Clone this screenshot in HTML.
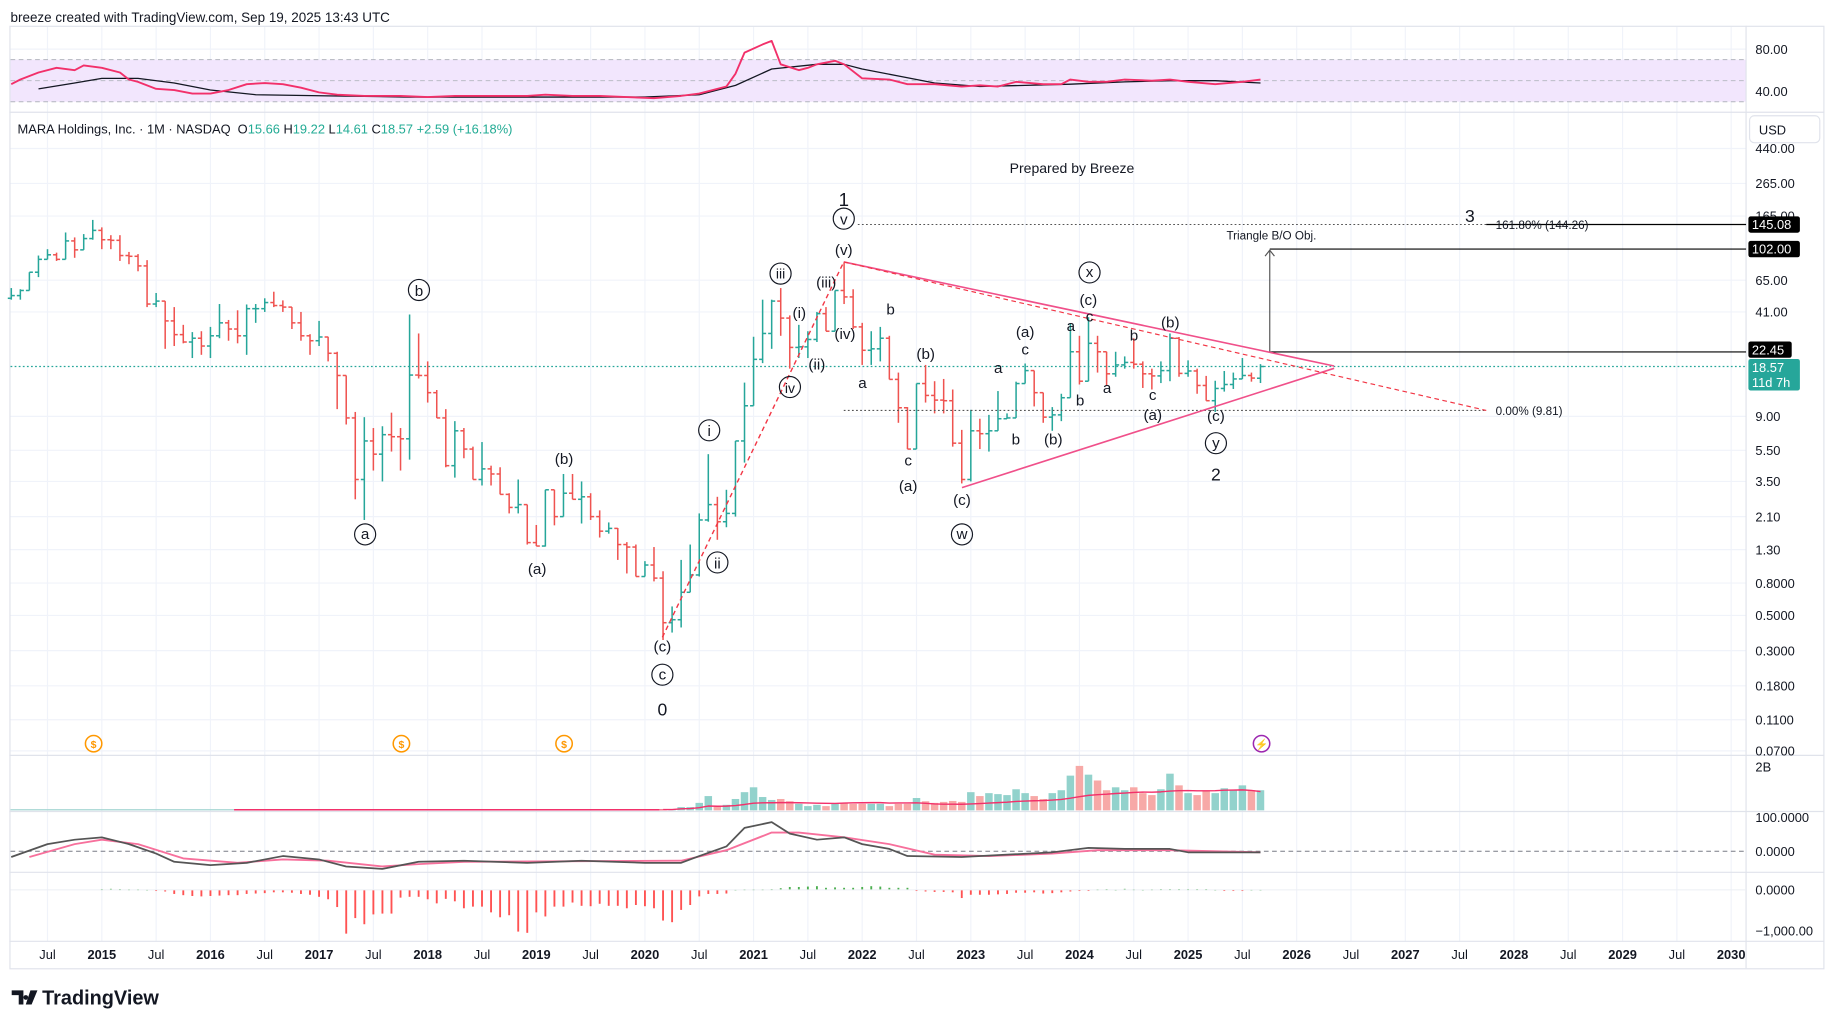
<!DOCTYPE html>
<html><head><meta charset="utf-8">
<style>
html,body{margin:0;padding:0;background:#fff;}
svg{display:block;font-family:"Liberation Sans",sans-serif;}
</style></head>
<body>
<svg id="chart" width="1835" height="1029" viewBox="0 0 1568 880" preserveAspectRatio="none" xmlns="http://www.w3.org/2000/svg">
<rect x="0" y="0" width="1568" height="880" fill="#fff"/>
<text x="9" y="19" font-size="11.5" fill="#131722">breeze created with TradingView.com, Sep 19, 2025 13:43 UTC</text>
<g id="grid"></g>
<!-- RSI band -->
<rect x="9" y="51" width="1483" height="36" fill="#f2e6fd"/>
<line x1="9" y1="51" x2="1492" y2="51" stroke="#b2b5be" stroke-dasharray="4,3" stroke-width="0.8"/>
<line x1="9" y1="69" x2="1492" y2="69" stroke="#b2b5be" stroke-dasharray="4,3" stroke-width="0.8"/>
<line x1="9" y1="87" x2="1492" y2="87" stroke="#b2b5be" stroke-dasharray="4,3" stroke-width="0.8"/>
<g id="panes" stroke="#e0e3eb" stroke-width="1" fill="none">
<rect x="8.5" y="22.5" width="1550" height="806"/>
<line x1="8" y1="96" x2="1559" y2="96"/>
<line x1="8" y1="646" x2="1559" y2="646"/>
<line x1="8" y1="694" x2="1559" y2="694"/>
<line x1="8" y1="746" x2="1559" y2="746"/>
<line x1="8" y1="805" x2="1559" y2="805"/>
<line x1="1492" y1="22" x2="1492" y2="828"/>
</g>
<g id="rsi"></g>
<g id="price"></g>
<g id="vol"></g>
<g id="macd"></g>
<g id="axes" font-size="11" fill="#131722"></g>

<!-- annotations -->
<g font-size="13" fill="#131722" text-anchor="middle">
<line x1="733" y1="192" x2="1492" y2="192" stroke="#555" stroke-dasharray="1.5,2" stroke-width="0.9"/>
<line x1="721" y1="351" x2="1270" y2="351" stroke="#555" stroke-dasharray="1.5,2" stroke-width="0.9"/>
<line x1="1270" y1="192" x2="1492" y2="192" stroke="#000" stroke-width="1"/>
<line x1="1085" y1="213" x2="1492" y2="213" stroke="#000" stroke-width="1"/>
<line x1="1085" y1="301" x2="1492" y2="301" stroke="#000" stroke-width="1"/>
<line x1="1085" y1="301" x2="1085" y2="214" stroke="#555" stroke-width="1"/>
<path d="M1081 219 L1085 214 L1089 219" stroke="#555" fill="none"/>
<line x1="721" y1="224" x2="1140" y2="313" stroke="#f0508a" stroke-width="1.4"/>
<line x1="822" y1="417" x2="1140" y2="315" stroke="#f0508a" stroke-width="1.4"/>
<line x1="721" y1="224" x2="1270" y2="351" stroke="#f23645" stroke-width="1" stroke-dasharray="4,3"/>
<line x1="566" y1="545" x2="721" y2="224" stroke="#f23645" stroke-width="1.2" stroke-dasharray="4,3"/>
<text x="916" y="148" font-size="12">Prepared by Breeze</text>
<text x="721" y="176" font-size="16">1</text>
<circle cx="721" cy="187" r="9" fill="none" stroke="#131722"/><text x="721" y="192">v</text>
<text x="721" y="218">(v)</text>
<circle cx="667" cy="234" r="9" fill="none" stroke="#131722"/><text x="667" y="238" font-size="12">iii</text>
<text x="706" y="246">(iii)</text>
<text x="683" y="272">(i)</text>
<text x="722" y="290">(iv)</text>
<text x="698" y="316">(ii)</text>
<circle cx="675" cy="331" r="9" fill="none" stroke="#131722"/><text x="675" y="336" font-size="12">iv</text>
<circle cx="606" cy="368" r="9" fill="none" stroke="#131722"/><text x="606" y="373">i</text>
<circle cx="613" cy="481" r="9" fill="none" stroke="#131722"/><text x="613" y="486">ii</text>
<text x="566" y="557">(c)</text>
<circle cx="566" cy="577" r="9" fill="none" stroke="#131722"/><text x="566" y="581">c</text>
<text x="566" y="612" font-size="15">0</text>
<circle cx="358" cy="248" r="9" fill="none" stroke="#131722"/><text x="358" y="253">b</text>
<circle cx="312" cy="457" r="9" fill="none" stroke="#131722"/><text x="312" y="461">a</text>
<text x="482" y="397">(b)</text>
<text x="459" y="491">(a)</text>
<text x="761" y="269">b</text>
<text x="737" y="332">a</text>
<text x="791" y="307">(b)</text>
<text x="776" y="398">c</text>
<text x="776" y="420">(a)</text>
<text x="822" y="432">(c)</text>
<circle cx="822" cy="457" r="9" fill="none" stroke="#131722"/><text x="822" y="461">w</text>
<text x="853" y="319">a</text>
<text x="876" y="288">(a)</text>
<text x="876" y="303">c</text>
<text x="868" y="380">b</text>
<text x="900" y="380">(b)</text>
<text x="915" y="283">a</text>
<text x="923" y="347">b</text>
<text x="930" y="261">(c)</text>
<text x="931" y="275">c</text>
<circle cx="931" cy="233" r="9" fill="none" stroke="#131722"/><text x="931" y="237">x</text>
<text x="946" y="336">a</text>
<text x="969" y="291">b</text>
<text x="985" y="342">c</text>
<text x="985" y="359">(a)</text>
<text x="1000" y="280">(b)</text>
<text x="1039" y="360">(c)</text>
<circle cx="1039" cy="379" r="9" fill="none" stroke="#131722"/><text x="1039" y="383">y</text>
<text x="1039" y="411" font-size="15">2</text>
<text x="1256" y="190" font-size="15">3</text>
<text x="1278" y="196" font-size="10" text-anchor="start">161.80% (144.26)</text>
<text x="1048" y="205" font-size="10" text-anchor="start">Triangle B/O Obj.</text>
<text x="1278" y="355" font-size="10" text-anchor="start">0.00% (9.81)</text>
</g>
<!-- price legend -->
<g font-size="11">
<text x="15" y="114" fill="#131722">MARA Holdings, Inc. · 1M · NASDAQ <tspan dx="3">O</tspan><tspan fill="#22ab94">15.66</tspan> <tspan>H</tspan><tspan fill="#22ab94">19.22</tspan> <tspan>L</tspan><tspan fill="#22ab94">14.61</tspan> <tspan>C</tspan><tspan fill="#22ab94">18.57</tspan> <tspan fill="#22ab94">+2.59 (+16.18%)</tspan></text>
</g>
<!-- dividend/event icons -->
<g font-size="9" text-anchor="middle" font-weight="bold">
<circle cx="80" cy="636" r="7" fill="#fff" stroke="#ff9800" stroke-width="1.3"/><text x="80" y="639.5" fill="#ff9800">$</text>
<circle cx="343" cy="636" r="7" fill="#fff" stroke="#ff9800" stroke-width="1.3"/><text x="343" y="639.5" fill="#ff9800">$</text>
<circle cx="482" cy="636" r="7" fill="#fff" stroke="#ff9800" stroke-width="1.3"/><text x="482" y="639.5" fill="#ff9800">$</text>
<circle cx="1078" cy="636" r="7" fill="#fff" stroke="#9c27b0" stroke-width="1.3"/><text x="1078" y="639.5" fill="#9c27b0">⚡</text>
</g>
<!-- right axis badges -->
<g>
<rect x="1495" y="99" width="60" height="23" rx="4" fill="#fff" stroke="#e0e3eb"/>
<text x="1503" y="115" font-size="11" fill="#131722">USD</text>
</g>
<g font-size="11" fill="#fff">
<rect x="1494" y="185" width="44" height="14" rx="2" fill="#000"/><text x="1497" y="196">145.08</text>
<rect x="1494" y="206" width="44" height="14" rx="2" fill="#000"/><text x="1497" y="217">102.00</text>
<rect x="1494" y="292" width="37" height="14" rx="2" fill="#000"/><text x="1497" y="303">22.45</text>
<rect x="1494" y="307" width="44" height="27" rx="2" fill="#26a69a"/><text x="1497" y="318">18.57</text><text x="1497" y="331">11d 7h</text>
</g>
<g>
<path d="M10 847 h10 v12 h-4 v-8 h-6z M22 851 a2 2 0 1 0 0.1 0 z M26 847 h6 l-5 12 h-5z" fill="#131722"/>
<text x="36" y="859" font-size="17" font-weight="bold" fill="#131722">TradingView</text>
</g>

<script>
// ---------- DATA ----------
const firstMonth = -10; // Mar 2014 (0 = Jan 2015)
const closes = [52,56,73,88,94,88,115,101,119,134,
117,116,93,92,80,46,48,36,29.5,26.5,28,25,
29,35,32,29,43,43,47,45,44,35,29,27,
28.5,22.5,16.3,8.8,3.6,6.3,5.2,6.9,6.7,6.5,16.4,16.3,
12.7,8.8,4.4,7.3,5.6,3.6,4.2,3.9,2.9,2.4,2.5,1.44,
1.37,3.1,2.1,2.95,2.7,2.8,2.1,1.7,1.77,1.4,1.35,0.88,
1.04,0.86,0.45,0.47,0.7,0.9,2.0,2.5,1.95,2.2,6.3,10.5,
20.6,30,48,37.5,24.5,24.7,27.5,40,31,56,51,33,
23.5,24,28,15.4,10.2,5.6,14.5,12.2,11.4,11.3,6.1,3.6,
7.3,7.0,7.3,8.7,8.8,14.5,17.5,12.7,8.9,9.2,11.8,23,
15,26,23,16.7,19,19.7,19.2,16.7,16.2,17.5,28,16.8,
17.4,14.1,11.3,13.5,14.3,15.5,16.3,15.7,18.57];
const highs = [58,57,73,93,102,97,130,121,127,156,
140,125,125,98,95,87,54,48,44,34,30.6,31,
33,46,36.5,42,45.7,46,50,55,48.5,44,41,29.7,
36,28.6,23,16.2,9.6,8.9,7.6,7.8,9.5,7.6,39.5,30,
20,13.2,10,8.4,7.6,5.8,6.2,4.4,4.3,2.95,3.6,2.5,
1.86,3.1,3.1,3.9,3.9,3.5,2.95,2.3,1.93,1.78,1.45,1.4,
1.1,1.35,0.95,0.57,1.12,1.4,2.2,5.2,2.8,3.1,6.3,14.7,
28.6,49,49,58,39,34,31,41,44,56,84,57,
35,31,33,29,17,10.3,14.5,19,15,15.5,13.3,7.4,
9.9,8.7,9.2,13,9.4,14.9,19.4,17.5,12.5,10.3,12.5,34.5,
29,38,29,22.5,23,21.5,28,20,18,20,30,28.5,
20.3,18,16.2,15.1,17.4,17,21,17,19.22];
const lows = [49,49,56,68,88,86,88,90,104,117,
102,102,86,82,74,44,44,24,25,26,21,22,
21,28,27,26,22,35,41,44,41,32,27,22,
25,20,10,8,2.7,2.0,4.1,3.5,5.4,4.1,4.8,15.6,
11,8.8,4.3,3.7,4.9,3.6,3.3,3.3,2.9,2.2,2.2,1.4,
1.37,1.36,1.85,2.1,2.7,1.9,2.0,1.55,1.64,1.12,0.92,0.88,
0.88,0.82,0.35,0.39,0.42,0.72,0.88,1.95,1.5,1.8,2.1,4.6,
10.5,19.5,24,29,18,21,21,26.5,31,33,46,32,
19,19,20,15.4,8.2,5.6,5.6,11,9.4,9.4,5.8,3.4,
3.5,5.6,5.4,7.5,8.7,8.8,14.5,10.4,8.2,7.3,8.4,12,
14.3,16.2,17,14,16,18,18,13.6,13.3,14.6,15,16,
16,12.5,11.3,9.6,12.9,13.4,15.5,14.9,14.61];
const firstOpen = 50;
const lastOpen = 15.66;
// volume in millions, Mar 2020 .. Sep 2025
const volStart = 62;
const volumes = [44,44,146,146,336,642,160,248,511,818,1037,599,467,511,409,292,190,248,190,292,336,292,292,292,292,190,292,292,555,409,336,380,423,380,818,642,774,730,686,949,774,642,511,774,905,1562,2000,1606,1343,905,1037,905,1037,774,686,949,1650,1124,774,686,861,774,993,905,1124,905,905];
// RSI (month index, value)
const rsiMonths = [-10,-9,-7,-5,-3,-2,0,2,3,4,6,8,10,12,14,16,18,20,22,24,26,29,33,36,39,43,47,49,52,55,58,61,64,66,69,70,71,73,74,75,77,78,79,81,82,84,87,89,92,95,97,99,101,104,106,107,109,111,113,116,118,120,123,126,128];
const rsiVals = [46.7,51.1,57.8,62.2,60,64.4,62.2,57.8,51.1,48.9,42.2,41.1,37.8,37.8,41.1,46.7,47.8,46.7,43.3,38.9,36.7,35.6,35.6,34.4,35.6,35.6,35.6,36.7,35.6,35.6,34.4,33.3,35.6,37.8,44.4,56.7,76.7,84.4,87.8,65.6,60,62.2,65.6,68.9,65.6,52.2,51.1,46.7,46.7,44.4,45.6,44.4,48.9,46.7,46.7,51.1,48.9,48.9,51.1,50,51.1,48.9,46.7,48.9,51.1];
const rsiMaMonths = [-7,-3,0,4,8,12,17,25,34,47,60,66,70,74,79,82,84,88,92,97,102,107,113,118,123,128];
const rsiMaVals = [42.2,47.8,52.2,52.2,47.8,41.1,36.7,35.6,34.4,34.4,34.4,36.7,45.6,61.1,65.6,65.6,61.1,54.4,47.8,44.4,45.6,46.7,48.9,50,50,47.8];
// MACD
const macdMonths = [-10,-6,-3,0,3,6,8,12,16,20,24,27,31,35,40,47,53,60,64,66,69,71,74,76,79,82,84,87,89,95,100,105,109,113,118,120,128];
const macdVals = [-17,21,34,41,21,-7,-31,-41,-34,-14,-24,-45,-52,-31,-28,-34,-28,-34,-34,-14,14,69,86,52,34,41,21,7,-14,-17,-10,-3,10,7,7,-3,-3];
const sigMonths = [-8,-3,0,4,9,15,20,25,31,35,40,64,69,74,77,82,87,92,98,105,110,118,128];
const sigVals = [-17,21,34,21,-21,-34,-24,-28,-45,-38,-31,-28,3,55,55,41,21,-10,-14,-7,3,3,-3];
const histStart = 0;
const histVals = [20,25,20,15,15,10,-5,-40,-100,-130,-150,-160,
-150,-140,-130,-130,-100,-90,-80,-60,-60,-70,-100,-120,
-170,-230,-420,-1070,-690,-840,-600,-580,-580,-190,-170,-170,
-230,-330,-220,-280,-450,-410,-410,-550,-670,-620,-1020,-1050,
-550,-650,-410,-410,-310,-390,-400,-340,-390,-390,-450,-370,
-400,-450,-750,-790,-490,-370,-160,-100,-100,-90,10,15,
15,15,20,40,70,70,80,90,50,60,50,50,
70,90,80,50,50,50,-20,-40,-50,-50,-60,-200,
-120,-120,-120,-110,-100,-70,-70,-60,-90,-80,-60,-40,
-20,-20,15,20,10,25,15,10,15,20,20,20,
20,20,20,10,-10,-10,-10,10,10];
const priceTicks = [440,265,165,65,41,9,5.5,3.5,2.1,1.3,0.8,0.5,0.3,0.18,0.11,0.07];
const priceTickLabels = ["440.00","265.00","165.00","65.00","41.00","9.00","5.50","3.50","2.10","1.30","0.8000","0.5000","0.3000","0.1800","0.1100","0.0700"];
const years = [2015,2016,2017,2018,2019,2020,2021,2022,2023,2024,2025,2026,2027,2028,2029,2030];

// ---------- SCALES ----------
const NS = "http://www.w3.org/2000/svg";
const xM = m => 87 + 7.735 * m;
const yP = p => 127 + 58.9 * Math.log(440 / p);
const yRSI = v => 42 + (80 - v) * 0.9;
const yMACD = v => 728 - v * 0.29;
const yHist = v => 761 - v * 0.035;
const yVol = v => 693 - v / 2000 * 38;
function mk(tag, attrs, parent) {
  const e = document.createElementNS(NS, tag);
  for (const k in attrs) e.setAttribute(k, attrs[k]);
  parent.appendChild(e);
  return e;
}
const G = id => document.getElementById(id);
const GREEN = "#26a69a", RED = "#ef5350";

// grid
const grid = G("grid");
for (let i = 0; i < priceTicks.length; i++) {
  const y = yP(priceTicks[i]);
  const l = mk("line", {x1: 9, x2: 1492, y1: y, y2: y, stroke: "#f0f3fa", "stroke-width": 1}, grid);
  
  
}
for (let i = -1; i < years.length; i++) {
  [0, 6].forEach(off => {
    const x = xM(i * 12 + off);
    if (x < 9 || x > 1492) return;
    const l = mk("line", {x1: x, x2: x, y1: 23, y2: 805, stroke: "#f0f3fa", "stroke-width": 1}, grid);
    
    
  });
}
[42, 78].forEach(y => { const l = mk("line", {x1: 9, x2: 1492, y1: y, y2: y, stroke: "#f0f3fa"}, grid);   });

// price bars
const price = G("price");
mk("line", {x1: 9, x2: 1492, y1: yP(18.57), y2: yP(18.57), stroke: GREEN, "stroke-dasharray": "1.5,2", "stroke-width": 1}, price);
const opens = closes.map((c, i) => i === 0 ? firstOpen : (i === closes.length - 1 ? lastOpen : closes[i - 1]));
for (let i = 0; i < closes.length; i++) {
  const m = firstMonth + i, x = xM(m);
  const o = opens[i], c = closes[i];
  const h = Math.max(highs[i], o, c), l = Math.min(lows[i], o, c);
  const col = c >= o ? GREEN : RED;
  const g = mk("g", {stroke: col, "stroke-width": 1.3}, price);
  
  
  mk("line", {x1: x, x2: x, y1: yP(h), y2: yP(l)}, g);
  mk("line", {x1: x - 3, x2: x, y1: yP(o), y2: yP(o)}, g);
  mk("line", {x1: x, x2: x + 3, y1: yP(c), y2: yP(c)}, g);
}

// RSI
const rsi = G("rsi");
function poly(parent, ms, vs, yf, color, w, name) {
  const pts = ms.map((m, i) => xM(m).toFixed(1) + "," + yf(vs[i]).toFixed(1)).join(" ");
  const p = mk("polyline", {points: pts, fill: "none", stroke: color, "stroke-width": w, "stroke-linejoin": "round"}, parent);
  
  
}
poly(rsi, rsiMaMonths, rsiMaVals, yRSI, "#131722", 1.1, 'rsi-ma-line');
poly(rsi, rsiMonths, rsiVals, yRSI, "#f2306a", 1.6, 'rsi-line');

// volume
const vol = G("vol");
mk("line", {x1: 9, x2: 200, y1: 692.5, y2: 692.5, stroke: "#a5d6d2", "stroke-width": 1}, vol);
mk("line", {x1: 200, x2: xM(volStart), y1: 692.5, y2: 692.5, stroke: "#f2306a", "stroke-width": 1.2}, vol);
for (let i = 0; i < volumes.length; i++) {
  const m = volStart + i, k = m - firstMonth;
  const up = closes[k] >= opens[k];
  const x = xM(m), y = yVol(volumes[i]);
  const r = mk("rect", {x: x - 3.2, y: y, width: 6.4, height: 693 - y, fill: up ? "#92d2cc" : "#f7a9a7"}, vol);
  
  
}
const vma = [];
for (let i = 0; i < volumes.length; i++) {
  const s = volumes.slice(Math.max(0, i - 19), i + 1);
  vma.push(s.reduce((a, b) => a + b, 0) / s.length * 0.85);
}
poly(vol, volumes.map((_, i) => volStart + i), vma, yVol, "#f2306a", 1.2, 'volume-ma-line');

// MACD
const macd = G("macd");
mk("line", {x1: 9, x2: 1492, y1: 728, y2: 728, stroke: "#787b86", "stroke-dasharray": "4,3", "stroke-width": 0.9}, macd);
poly(macd, sigMonths, sigVals, yMACD, "#f7709c", 1.6, 'macd-signal-line');
poly(macd, macdMonths, macdVals, yMACD, "#555", 1.5, 'macd-line');
for (let i = 0; i < histVals.length; i++) {
  const x = xM(histStart + i), v = histVals[i];
  const y0 = yHist(0), y1 = yHist(v);
  const r = mk("rect", {x: x - 0.8, y: Math.min(y0, y1), width: 1.6, height: Math.max(1, Math.abs(y1 - y0)), fill: v >= 0 ? "#4caf50" : "#ff5252"}, macd);
  
  
}
mk("line", {x1: 9, x2: 1492, y1: 761, y2: 761, stroke: "#eceff4", "stroke-width": 0.8}, macd);

// axes labels
const axes = G("axes");
function txt(x, y, s, name, extra) {
  const t = mk("text", Object.assign({x: x, y: y}, extra || {}), axes);
  t.textContent = s;
  
  
  return t;
}
for (let i = 0; i < priceTicks.length; i++) {
  const y = yP(priceTicks[i]);
  if (y < 124) continue;
  txt(1500, y + 4, priceTickLabels[i], 'price-tick-label');
}
txt(1500, 46, "80.00", 'rsi-tick-label');
txt(1500, 82, "40.00", 'rsi-tick-label');
txt(1500, 660, "2B", 'volume-tick-label');
txt(1500, 703, "100.0000", 'macd-tick-label');
txt(1500, 732, "0.0000", 'macd-tick-label');
txt(1500, 765, "0.0000", 'histogram-tick-label');
txt(1500, 800, "−1,000.00", 'histogram-tick-label');
for (let i = -1; i < years.length; i++) {
  if (i >= 0) {
    const x = xM(i * 12);
    if (x < 1492) txt(x, 820, String(years[i]), 'year-label', {"text-anchor": "middle", "font-weight": "bold"});
  }
  const xj = xM(i * 12 + 6);
  if (xj > 15 && xj < 1480) txt(xj, 820, "Jul", 'month-label', {"text-anchor": "middle"});
}
</script>
</svg>
</body></html>
